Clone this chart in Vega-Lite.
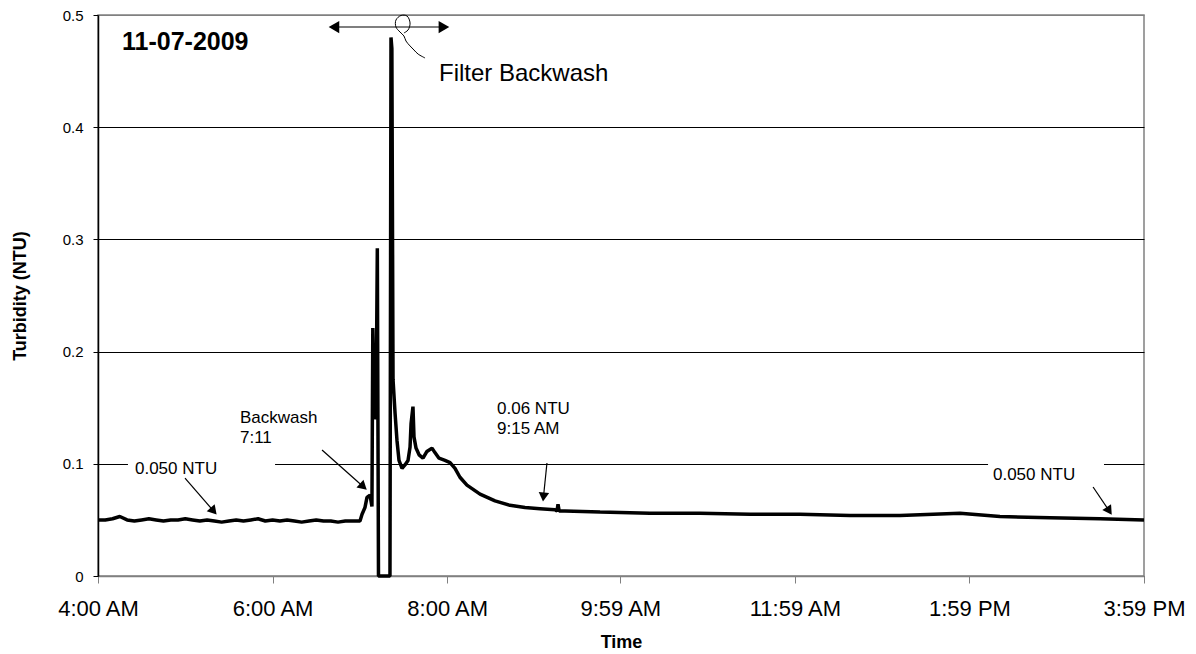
{
  "$schema": "https://vega.github.io/schema/vega-lite/v6.json",
  "width": 1046,
  "height": 561,
  "autosize": {"type": "none"},
  "padding": {"left": 98, "top": 15, "right": 52, "bottom": 78},
  "background": "white",
  "config": {
    "font": "Liberation Sans",
    "view": {"stroke": "#808080", "strokeWidth": 1.5},
    "axis": {"labelColor": "black", "titleColor": "black"}
  },
  "datasets": {
    "turbidity": [
      {"time": "2009-11-07T04:00:00", "ntu": 0.050},
      {"time": "2009-11-07T04:05:00", "ntu": 0.050},
      {"time": "2009-11-07T04:10:00", "ntu": 0.051},
      {"time": "2009-11-07T04:15:00", "ntu": 0.053},
      {"time": "2009-11-07T04:20:00", "ntu": 0.050},
      {"time": "2009-11-07T04:25:00", "ntu": 0.049},
      {"time": "2009-11-07T04:30:00", "ntu": 0.050},
      {"time": "2009-11-07T04:35:00", "ntu": 0.051},
      {"time": "2009-11-07T04:40:00", "ntu": 0.050},
      {"time": "2009-11-07T04:45:00", "ntu": 0.049},
      {"time": "2009-11-07T04:50:00", "ntu": 0.050},
      {"time": "2009-11-07T04:55:00", "ntu": 0.050},
      {"time": "2009-11-07T05:00:00", "ntu": 0.051},
      {"time": "2009-11-07T05:05:00", "ntu": 0.050},
      {"time": "2009-11-07T05:10:00", "ntu": 0.049},
      {"time": "2009-11-07T05:15:00", "ntu": 0.050},
      {"time": "2009-11-07T05:20:00", "ntu": 0.049},
      {"time": "2009-11-07T05:25:00", "ntu": 0.048},
      {"time": "2009-11-07T05:30:00", "ntu": 0.049},
      {"time": "2009-11-07T05:35:00", "ntu": 0.050},
      {"time": "2009-11-07T05:40:00", "ntu": 0.049},
      {"time": "2009-11-07T05:45:00", "ntu": 0.050},
      {"time": "2009-11-07T05:50:00", "ntu": 0.051},
      {"time": "2009-11-07T05:55:00", "ntu": 0.049},
      {"time": "2009-11-07T06:00:00", "ntu": 0.050},
      {"time": "2009-11-07T06:05:00", "ntu": 0.049},
      {"time": "2009-11-07T06:10:00", "ntu": 0.050},
      {"time": "2009-11-07T06:15:00", "ntu": 0.049},
      {"time": "2009-11-07T06:20:00", "ntu": 0.048},
      {"time": "2009-11-07T06:25:00", "ntu": 0.049},
      {"time": "2009-11-07T06:30:00", "ntu": 0.050},
      {"time": "2009-11-07T06:35:00", "ntu": 0.049},
      {"time": "2009-11-07T06:40:00", "ntu": 0.049},
      {"time": "2009-11-07T06:45:00", "ntu": 0.048},
      {"time": "2009-11-07T06:50:00", "ntu": 0.049},
      {"time": "2009-11-07T06:55:00", "ntu": 0.049},
      {"time": "2009-11-07T07:00:06", "ntu": 0.049},
      {"time": "2009-11-07T07:01:30", "ntu": 0.055},
      {"time": "2009-11-07T07:03:30", "ntu": 0.061},
      {"time": "2009-11-07T07:04:54", "ntu": 0.070},
      {"time": "2009-11-07T07:07:00", "ntu": 0.072},
      {"time": "2009-11-07T07:08:18", "ntu": 0.062},
      {"time": "2009-11-07T07:08:54", "ntu": 0.221},
      {"time": "2009-11-07T07:10:00", "ntu": 0.141},
      {"time": "2009-11-07T07:11:06", "ntu": 0.141},
      {"time": "2009-11-07T07:12:00", "ntu": 0.292},
      {"time": "2009-11-07T07:12:48", "ntu": 0.000},
      {"time": "2009-11-07T07:20:42", "ntu": 0.000},
      {"time": "2009-11-07T07:21:24", "ntu": 0.480},
      {"time": "2009-11-07T07:22:00", "ntu": 0.470},
      {"time": "2009-11-07T07:22:48", "ntu": 0.175},
      {"time": "2009-11-07T07:24:12", "ntu": 0.145},
      {"time": "2009-11-07T07:25:30", "ntu": 0.121},
      {"time": "2009-11-07T07:26:54", "ntu": 0.103},
      {"time": "2009-11-07T07:29:00", "ntu": 0.096},
      {"time": "2009-11-07T07:31:00", "ntu": 0.099},
      {"time": "2009-11-07T07:33:06", "ntu": 0.103},
      {"time": "2009-11-07T07:34:30", "ntu": 0.115},
      {"time": "2009-11-07T07:35:12", "ntu": 0.136},
      {"time": "2009-11-07T07:36:30", "ntu": 0.151},
      {"time": "2009-11-07T07:37:12", "ntu": 0.124},
      {"time": "2009-11-07T07:38:36", "ntu": 0.114},
      {"time": "2009-11-07T07:40:42", "ntu": 0.108},
      {"time": "2009-11-07T07:43:24", "ntu": 0.105},
      {"time": "2009-11-07T07:46:06", "ntu": 0.111},
      {"time": "2009-11-07T07:49:36", "ntu": 0.114},
      {"time": "2009-11-07T07:51:36", "ntu": 0.110},
      {"time": "2009-11-07T07:54:24", "ntu": 0.105},
      {"time": "2009-11-07T07:58:30", "ntu": 0.103},
      {"time": "2009-11-07T08:02:00", "ntu": 0.101},
      {"time": "2009-11-07T08:05:24", "ntu": 0.096},
      {"time": "2009-11-07T08:08:48", "ntu": 0.088},
      {"time": "2009-11-07T08:13:36", "ntu": 0.081},
      {"time": "2009-11-07T08:22:36", "ntu": 0.073},
      {"time": "2009-11-07T08:32:54", "ntu": 0.067},
      {"time": "2009-11-07T08:43:12", "ntu": 0.063},
      {"time": "2009-11-07T08:53:30", "ntu": 0.061},
      {"time": "2009-11-07T09:03:48", "ntu": 0.060},
      {"time": "2009-11-07T09:14:06", "ntu": 0.059},
      {"time": "2009-11-07T09:15:30", "ntu": 0.058},
      {"time": "2009-11-07T09:16:12", "ntu": 0.064},
      {"time": "2009-11-07T09:17:00", "ntu": 0.058},
      {"time": "2009-11-07T09:21:00", "ntu": 0.058},
      {"time": "2009-11-07T09:45:06", "ntu": 0.057},
      {"time": "2009-11-07T10:19:24", "ntu": 0.056},
      {"time": "2009-11-07T10:53:48", "ntu": 0.056},
      {"time": "2009-11-07T11:28:12", "ntu": 0.055},
      {"time": "2009-11-07T12:02:30", "ntu": 0.055},
      {"time": "2009-11-07T12:36:54", "ntu": 0.054},
      {"time": "2009-11-07T13:11:18", "ntu": 0.054},
      {"time": "2009-11-07T13:52:30", "ntu": 0.056},
      {"time": "2009-11-07T14:20:00", "ntu": 0.053},
      {"time": "2009-11-07T14:54:24", "ntu": 0.052},
      {"time": "2009-11-07T15:28:48", "ntu": 0.051},
      {"time": "2009-11-07T15:59:00", "ntu": 0.050}
    ],
    "loop": [
      {"seq": 1, "time": "2009-11-07T07:30:18", "ntu": 0.4840},
      {"seq": 2, "time": "2009-11-07T07:33:06", "ntu": 0.4866},
      {"seq": 3, "time": "2009-11-07T07:34:30", "ntu": 0.4929},
      {"seq": 4, "time": "2009-11-07T07:32:24", "ntu": 0.4991},
      {"seq": 5, "time": "2009-11-07T07:28:18", "ntu": 0.4996},
      {"seq": 6, "time": "2009-11-07T07:24:48", "ntu": 0.4955},
      {"seq": 7, "time": "2009-11-07T07:24:48", "ntu": 0.4893},
      {"seq": 8, "time": "2009-11-07T07:27:36", "ntu": 0.4848},
      {"seq": 9, "time": "2009-11-07T07:30:18", "ntu": 0.4813},
      {"seq": 10, "time": "2009-11-07T07:31:42", "ntu": 0.4768},
      {"seq": 11, "time": "2009-11-07T07:34:30", "ntu": 0.4724},
      {"seq": 12, "time": "2009-11-07T07:37:12", "ntu": 0.4688},
      {"seq": 13, "time": "2009-11-07T07:40:00", "ntu": 0.4652},
      {"seq": 14, "time": "2009-11-07T07:44:48", "ntu": 0.4617}
    ],
    "arrows": [
      {"id": "a1", "time": "2009-11-07T04:59:48", "ntu": 0.0873, "time2": "2009-11-07T05:19:30", "ntu2": 0.0578},
      {"id": "a2", "time": "2009-11-07T06:34:00", "ntu": 0.1123, "time2": "2009-11-07T07:02:24", "ntu2": 0.0796},
      {"id": "a3", "time": "2009-11-07T09:08:36", "ntu": 0.1007, "time2": "2009-11-07T09:06:12", "ntu2": 0.0704},
      {"id": "a4", "time": "2009-11-07T15:24:00", "ntu": 0.0793, "time2": "2009-11-07T15:35:06", "ntu2": 0.0580},
      {"id": "a5", "time": "2009-11-07T06:42:12", "ntu": 0.4893, "time2": "2009-11-07T07:57:48", "ntu2": 0.4893}
    ],
    "heads": [
      {"id": "a1", "time": "2009-11-07T05:19:30", "ntu": 0.0578},
      {"id": "a2", "time": "2009-11-07T07:02:24", "ntu": 0.0796},
      {"id": "a3", "time": "2009-11-07T09:06:12", "ntu": 0.0704},
      {"id": "a4", "time": "2009-11-07T15:35:06", "ntu": 0.0580},
      {"id": "a5l", "time": "2009-11-07T06:42:12", "ntu": 0.4893},
      {"id": "a5r", "time": "2009-11-07T07:57:48", "ntu": 0.4893}
    ],
    "notes": [
      {"label": "0.050 NTU", "time": "2009-11-07T04:25:24", "ntu": 0.1025},
      {"label": "Backwash\n7:11", "time": "2009-11-07T05:37:36", "ntu": 0.1480},
      {"label": "0.06 NTU\n9:15 AM", "time": "2009-11-07T08:34:18", "ntu": 0.1560},
      {"label": "0.050 NTU", "time": "2009-11-07T14:15:12", "ntu": 0.0971}
    ],
    "dateLabel": [
      {"label": "11-07-2009", "time": "2009-11-07T04:16:30", "ntu": 0.4688}
    ],
    "filterLabel": [
      {"label": "Filter Backwash", "time": "2009-11-07T07:54:24", "ntu": 0.4412}
    ],
    "gaps": [
      {"start": "2009-11-07T04:20:36", "end": "2009-11-07T06:01:42", "low": 0.096, "high": 0.104},
      {"start": "2009-11-07T14:11:48", "end": "2009-11-07T15:31:30", "low": 0.096, "high": 0.104}
    ]
  },
  "layer": [
    {
      "data": {"name": "gaps"},
      "mark": {"type": "rect", "color": "white"},
      "encoding": {
        "x": {"field": "start", "type": "temporal", "title": "Time"},
        "x2": {"field": "end"},
        "y": {"field": "low", "type": "quantitative", "title": "Turbidity (NTU)"},
        "y2": {"field": "high"}
      }
    },
    {
      "data": {"name": "turbidity"},
      "mark": {"type": "line", "color": "black", "strokeWidth": 3.5, "strokeJoin": "bevel"},
      "encoding": {
        "x": {
          "field": "time",
          "type": "temporal",
          "title": "Time",
          "scale": {
            "domain": [
              {"year": 2009, "month": 11, "date": 7, "hours": 4, "minutes": 0},
              {"year": 2009, "month": 11, "date": 7, "hours": 15, "minutes": 59}
            ],
            "nice": false
          },
          "axis": {
            "values": [
              {"year": 2009, "month": 11, "date": 7, "hours": 4, "minutes": 0},
              {"year": 2009, "month": 11, "date": 7, "hours": 6, "minutes": 0},
              {"year": 2009, "month": 11, "date": 7, "hours": 8, "minutes": 0},
              {"year": 2009, "month": 11, "date": 7, "hours": 9, "minutes": 59},
              {"year": 2009, "month": 11, "date": 7, "hours": 11, "minutes": 59},
              {"year": 2009, "month": 11, "date": 7, "hours": 13, "minutes": 59},
              {"year": 2009, "month": 11, "date": 7, "hours": 15, "minutes": 59}
            ],
            "format": "%-I:%M %p",
            "grid": false,
            "labelFontSize": 22,
            "labelFlush": false,
            "labelOverlap": false,
            "labelBound": false,
            "tickSize": 7,
            "tickColor": "#808080",
            "domainColor": "#808080",
            "domainWidth": 1.5,
            "labelPadding": 15,
            "titleFontSize": 18,
            "titleFontWeight": "bold",
            "titlePadding": 14
          }
        },
        "y": {
          "field": "ntu",
          "type": "quantitative",
          "title": "Turbidity (NTU)",
          "scale": {"domain": [0, 0.5], "nice": false, "zero": true},
          "axis": {
            "values": [0, 0.1, 0.2, 0.3, 0.4, 0.5],
            "labelExpr": "datum.value == 0 ? '0' : format(datum.value, '.1f')",
            "labelFontSize": 15,
            "tickSize": 5,
            "tickColor": "black",
            "domainColor": "black",
            "domainWidth": 1.5,
            "labelPadding": 10,
            "grid": true,
            "gridColor": {"condition": {"test": "datum.value >= 0.49", "value": "#808080"}, "value": "black"},
            "gridWidth": 1,
            "titleFontSize": 18,
            "titleFontWeight": "bold",
            "titlePadding": 33
          }
        }
      }
    },
    {
      "data": {"name": "loop"},
      "mark": {"type": "line", "color": "black", "strokeWidth": 1, "interpolate": "catmull-rom"},
      "encoding": {
        "x": {"field": "time", "type": "temporal", "title": "Time"},
        "y": {"field": "ntu", "type": "quantitative", "title": "Turbidity (NTU)"},
        "order": {"field": "seq", "type": "quantitative"}
      }
    },
    {
      "data": {"name": "arrows"},
      "mark": {"type": "rule", "color": "black", "strokeWidth": 1.2},
      "encoding": {
        "x": {"field": "time", "type": "temporal", "title": "Time"},
        "x2": {"field": "time2"},
        "y": {"field": "ntu", "type": "quantitative", "title": "Turbidity (NTU)"},
        "y2": {"field": "ntu2"}
      }
    },
    {
      "data": {"name": "heads"},
      "transform": [{"filter": "datum.id == 'a1'"}],
      "mark": {"type": "point", "shape": "triangle-right", "filled": true, "color": "black", "opacity": 1, "size": 110, "angle": 49},
      "encoding": {
        "x": {"field": "time", "type": "temporal", "title": "Time"},
        "y": {"field": "ntu", "type": "quantitative", "title": "Turbidity (NTU)"}
      }
    },
    {
      "data": {"name": "heads"},
      "transform": [{"filter": "datum.id == 'a2'"}],
      "mark": {"type": "point", "shape": "triangle-right", "filled": true, "color": "black", "opacity": 1, "size": 110, "angle": 42},
      "encoding": {
        "x": {"field": "time", "type": "temporal", "title": "Time"},
        "y": {"field": "ntu", "type": "quantitative", "title": "Turbidity (NTU)"}
      }
    },
    {
      "data": {"name": "heads"},
      "transform": [{"filter": "datum.id == 'a3'"}],
      "mark": {"type": "point", "shape": "triangle-right", "filled": true, "color": "black", "opacity": 1, "size": 110, "angle": 96},
      "encoding": {
        "x": {"field": "time", "type": "temporal", "title": "Time"},
        "y": {"field": "ntu", "type": "quantitative", "title": "Turbidity (NTU)"}
      }
    },
    {
      "data": {"name": "heads"},
      "transform": [{"filter": "datum.id == 'a4'"}],
      "mark": {"type": "point", "shape": "triangle-right", "filled": true, "color": "black", "opacity": 1, "size": 110, "angle": 56},
      "encoding": {
        "x": {"field": "time", "type": "temporal", "title": "Time"},
        "y": {"field": "ntu", "type": "quantitative", "title": "Turbidity (NTU)"}
      }
    },
    {
      "data": {"name": "heads"},
      "transform": [{"filter": "datum.id == 'a5l'"}],
      "mark": {"type": "point", "shape": "triangle-left", "filled": true, "color": "black", "opacity": 1, "size": 150},
      "encoding": {
        "x": {"field": "time", "type": "temporal", "title": "Time"},
        "y": {"field": "ntu", "type": "quantitative", "title": "Turbidity (NTU)"}
      }
    },
    {
      "data": {"name": "heads"},
      "transform": [{"filter": "datum.id == 'a5r'"}],
      "mark": {"type": "point", "shape": "triangle-right", "filled": true, "color": "black", "opacity": 1, "size": 150},
      "encoding": {
        "x": {"field": "time", "type": "temporal", "title": "Time"},
        "y": {"field": "ntu", "type": "quantitative", "title": "Turbidity (NTU)"}
      }
    },
    {
      "data": {"name": "notes"},
      "mark": {"type": "text", "align": "left", "baseline": "top", "fontSize": 17, "lineHeight": 20, "lineBreak": "\n", "color": "black"},
      "encoding": {
        "x": {"field": "time", "type": "temporal", "title": "Time"},
        "y": {"field": "ntu", "type": "quantitative", "title": "Turbidity (NTU)"},
        "text": {"field": "label"}
      }
    },
    {
      "data": {"name": "dateLabel"},
      "mark": {"type": "text", "align": "left", "baseline": "alphabetic", "fontSize": 25, "fontWeight": "bold", "color": "black"},
      "encoding": {
        "x": {"field": "time", "type": "temporal", "title": "Time"},
        "y": {"field": "ntu", "type": "quantitative", "title": "Turbidity (NTU)"},
        "text": {"field": "label"}
      }
    },
    {
      "data": {"name": "filterLabel"},
      "mark": {"type": "text", "align": "left", "baseline": "alphabetic", "fontSize": 24, "color": "black"},
      "encoding": {
        "x": {"field": "time", "type": "temporal", "title": "Time"},
        "y": {"field": "ntu", "type": "quantitative", "title": "Turbidity (NTU)"},
        "text": {"field": "label"}
      }
    }
  ]
}
